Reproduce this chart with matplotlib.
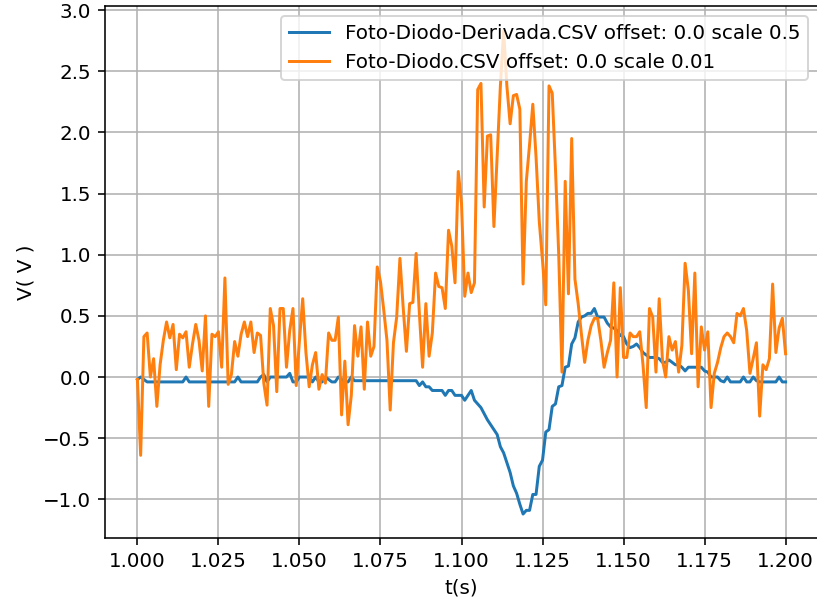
import numpy as np
import matplotlib
matplotlib.use("Agg")
from matplotlib import pyplot as plt

# sample grid: 1.000 s .. 1.200 s every 1 ms
t = np.round(1.0 + 0.001 * np.arange(201), 3)

# Foto-Diodo-Derivada.CSV (scale 0.5)
derivada = [
    -0.02, 0.0, -0.02, -0.04, -0.04, -0.04, -0.04, -0.04, -0.04, -0.04,
    -0.04, -0.04, -0.04, -0.04, -0.04, 0.0, -0.04, -0.04, -0.04, -0.04,
    -0.04, -0.04, -0.04, -0.04, -0.04, -0.04, -0.04, -0.04, -0.04, -0.04,
    -0.04, 0.0, -0.04, -0.04, -0.04, -0.04, -0.04, -0.04, 0.0, 0.02,
    -0.04, 0.0, 0.0, 0.0, 0.0, 0.0, 0.0, 0.03, -0.04, -0.04,
    0.0, 0.0, 0.0, 0.0, -0.04, 0.0, -0.04, -0.04, 0.0, -0.02,
    -0.04, -0.04, 0.0, -0.02, -0.04, -0.04, 0.0, -0.03, -0.03, -0.03,
    -0.03, -0.03, -0.03, -0.03, -0.03, -0.03, -0.03, -0.03, -0.03, -0.03,
    -0.03, -0.03, -0.03, -0.03, -0.03, -0.03, -0.03, -0.07, -0.04, -0.08,
    -0.08, -0.11, -0.11, -0.11, -0.11, -0.15, -0.11, -0.11, -0.15, -0.15,
    -0.15, -0.19, -0.15, -0.11, -0.19, -0.22, -0.25, -0.3, -0.35, -0.39,
    -0.43, -0.47, -0.57, -0.62, -0.7, -0.78, -0.89, -0.95, -1.04, -1.12,
    -1.09, -1.09, -0.96, -0.96, -0.73, -0.68, -0.45, -0.43, -0.24, -0.22,
    -0.08, -0.07, 0.08, 0.09, 0.27, 0.32, 0.45, 0.49, 0.5, 0.52,
    0.52, 0.56, 0.49, 0.49, 0.49, 0.44, 0.41, 0.4, 0.38, 0.34,
    0.33, 0.27, 0.24, 0.25, 0.27, 0.24, 0.2, 0.18, 0.16, 0.16,
    0.16, 0.15, 0.12, 0.12, 0.14, 0.12, 0.1, 0.1, 0.08, 0.05,
    0.08, 0.08, 0.08, 0.08, 0.08, 0.05, 0.04, 0.0, 0.0, 0.0,
    -0.03, -0.04, 0.0, -0.04, -0.04, -0.04, -0.04, 0.0, -0.04, -0.04,
    0.0, -0.03, -0.04, -0.04, -0.04, -0.04, -0.04, -0.04, 0.0, -0.04,
    -0.04,
]

# Foto-Diodo.CSV (scale 0.01)
diodo = [
    -0.02, -0.64, 0.33, 0.36, 0.0, 0.15, -0.24, 0.1, 0.3, 0.45,
    0.32, 0.43, 0.06, 0.35, 0.32, 0.37, 0.08, 0.27, 0.43, 0.3,
    0.05, 0.5, -0.24, 0.35, 0.33, 0.37, 0.08, 0.81, -0.06, 0.02,
    0.29, 0.17, 0.35, 0.45, 0.33, 0.45, 0.2, 0.36, 0.34, -0.05,
    -0.23, 0.56, 0.42, -0.12, 0.56, 0.56, 0.08, 0.38, 0.56, -0.07,
    0.3, 0.64, 0.2, -0.08, 0.1, 0.2, -0.1, 0.02, -0.05, 0.36,
    0.3, 0.3, 0.49, -0.31, 0.13, -0.39, -0.15, 0.42, 0.17, 0.41,
    -0.1, 0.45, 0.17, 0.25, 0.9, 0.78, 0.55, 0.3, -0.27, 0.28,
    0.49, 0.97, 0.57, 0.21, 0.6, 0.61, 1.01, 0.52, 0.08, 0.6,
    0.17, 0.36, 0.85, 0.74, 0.73, 0.56, 1.2, 1.07, 0.77, 1.68,
    1.42, 0.66, 0.85, 0.69, 0.77, 2.35, 2.4, 1.39, 1.97, 1.98,
    1.23, 1.8, 2.38, 2.83, 2.38, 2.07, 2.3, 2.31, 2.19, 0.76,
    1.6, 1.9, 2.23, 1.8, 1.27, 0.95, 0.59, 2.38, 2.32, 1.7,
    1.0, 0.04, 1.6, 0.68, 1.95, 0.8, 0.6, 0.35, 0.12, 0.3,
    0.42, 0.48, 0.48, 0.3, 0.08, 0.2, 0.3, 0.77, 0.0, 0.73,
    0.16, 0.16, 0.36, 0.33, 0.33, 0.37, 0.1, -0.25, 0.56, 0.49,
    0.04, 0.64, 0.14, 0.0, 0.33, 0.22, 0.29, 0.04, 0.26, 0.93,
    0.71, 0.19, 0.85, -0.08, 0.41, 0.22, 0.37, -0.25, 0.03, 0.12,
    0.24, 0.33, 0.36, 0.33, 0.28, 0.52, 0.5, 0.56, 0.38, 0.03,
    0.15, 0.28, -0.32, 0.1, 0.06, 0.15, 0.76, 0.2, 0.4, 0.48,
    0.19,
]

labels = ["Foto-Diodo-Derivada.CSV offset: 0.0 scale 0.5",
          "Foto-Diodo.CSV offset: 0.0 scale 0.01"]

# original looks like a default figure rendered at ~143 dpi
DPI = 143
fig = plt.figure(figsize=(817 / DPI, 606 / DPI), dpi=DPI)
ax = fig.add_axes([105 / 817, 68 / 606, 713 / 817, 532 / 606])

ax.plot(t, derivada, color="#1f77b4", lw=1.5, label=labels[0])
ax.plot(t, diodo, color="#ff7f0e", lw=1.5, label=labels[1])

ax.set_xlim(0.99, 1.21)
ax.set_ylim(-1.316, 3.033)
ax.set_xticks([1.0, 1.025, 1.05, 1.075, 1.1, 1.125, 1.15, 1.175, 1.2])
ax.xaxis.set_major_formatter(matplotlib.ticker.FormatStrFormatter("%.3f"))
ax.grid(True)
ax.set_xlabel("t(s)")
ax.set_ylabel("V( V )")
ax.legend(loc="upper right")

plt.savefig("out.png", dpi=DPI)
